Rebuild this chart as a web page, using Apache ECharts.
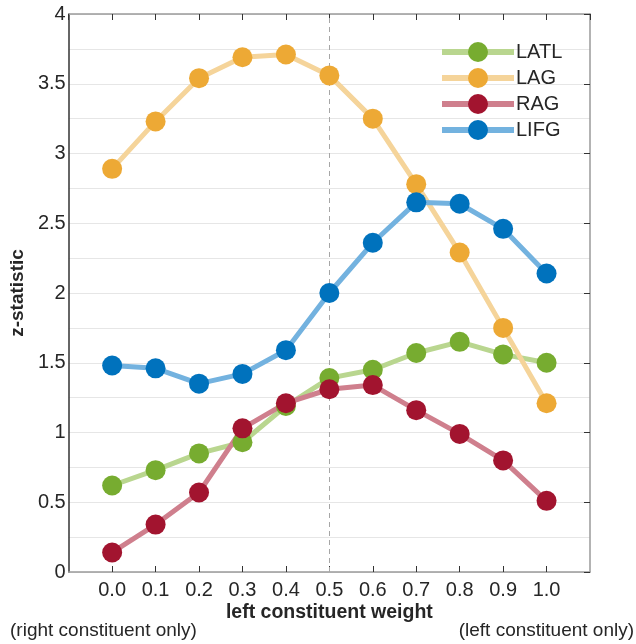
<!DOCTYPE html>
<html>
<head>
<meta charset="utf-8">
<script src="https://cdn.jsdelivr.net/npm/echarts@6/dist/echarts.min.js"></script>
<style>
  html, body { margin: 0; padding: 0; background: #fff; }
  #chart { width: 636px; height: 644px; }
</style>
</head>
<body>
<div id="chart"></div>
<script>
  // weights on the x axis
  var weights = [0.0, 0.1, 0.2, 0.3, 0.4, 0.5, 0.6, 0.7, 0.8, 0.9, 1.0];
  // z-statistic per region
  var latl = [0.62, 0.73, 0.85, 0.93, 1.19, 1.39, 1.45, 1.57, 1.65, 1.56, 1.50];
  var lag  = [2.89, 3.23, 3.54, 3.69, 3.71, 3.56, 3.25, 2.78, 2.29, 1.75, 1.21];
  var rag  = [0.14, 0.34, 0.57, 1.03, 1.21, 1.31, 1.34, 1.16, 0.99, 0.80, 0.51];
  var lifg = [1.48, 1.46, 1.35, 1.42, 1.59, 2.00, 2.36, 2.65, 2.64, 2.46, 2.14];

  var font = 'Liberation Sans';
  var textColor = '#262626';

  function pairs(vals) {
    return weights.map(function (w, i) { return [w, vals[i]]; });
  }

  function makeSeries(name, vals, dot, line) {
    return {
      name: name,
      type: 'line',
      data: pairs(vals),
      symbol: 'circle',
      symbolSize: 20,
      itemStyle: { color: dot },
      lineStyle: { color: line, width: 5 },
      emphasis: { disabled: true },
      z: 3
    };
  }

  var myChart = echarts.init(document.getElementById('chart'));

  var series = [
    makeSeries('LATL', latl, '#77ac30', '#b9d68f'),
    makeSeries('LAG', lag, '#eda935', '#f5d49a'),
    makeSeries('RAG', rag, '#a2142f', '#cf7f8d'),
    makeSeries('LIFG', lifg, '#0072bd', '#73b2df')
  ];
  // dashed line at 0.5
  series[0].markLine = {
    silent: true,
    symbol: 'none',
    label: { show: false },
    lineStyle: { color: '#a6a6a6', type: [5, 4], width: 1 },
    data: [{ xAxis: 0.5 }],
    z: 1
  };

  var option = {
    animation: false,
    backgroundColor: '#fff',
    textStyle: { fontFamily: font },
    grid: { left: 59, top: 14, right: 46, bottom: 72 },
    legend: {
      data: ['LATL', 'LAG', 'RAG', 'LIFG'],
      orient: 'vertical',
      left: 439,
      top: 42,
      padding: 0,
      itemWidth: 72,
      itemHeight: 25,
      itemGap: 6,
      lineStyle: { width: 6 },
      textStyle: { fontSize: 20, color: textColor, fontFamily: font, padding: [0, 0, 0, -3] }
    },
    xAxis: [{
      type: 'value',
      min: -0.1,
      max: 1.1,
      interval: 0.1,
      name: 'left constituent weight',
      nameLocation: 'middle',
      nameGap: 31,
      nameMoveOverlap: false,
      nameTextStyle: { fontSize: 19.5, fontWeight: 'bold', color: textColor },
      axisLine: { onZero: false, lineStyle: { color: '#9a9a9a', width: 1.5 } },
      axisTick: { show: true, inside: true, length: 6, lineStyle: { color: '#333' } },
      axisLabel: {
        fontSize: 20, color: textColor, margin: 8,
        showMinLabel: false, showMaxLabel: false,
        formatter: function (v) { return v.toFixed(1); }
      },
      splitLine: { show: false }
    }, {
      type: 'value',
      position: 'top',
      min: -0.1,
      max: 1.1,
      interval: 0.1,
      axisLine: { onZero: false, lineStyle: { color: '#9a9a9a', width: 1.5 } },
      axisTick: { show: true, inside: true, length: 6, lineStyle: { color: '#333' } },
      axisLabel: { show: false },
      splitLine: { show: false }
    }],
    yAxis: [{
      type: 'value',
      min: 0,
      max: 4,
      interval: 0.5,
      name: 'z-statistic',
      nameLocation: 'middle',
      nameGap: 38,
      nameTextStyle: { fontSize: 19, fontWeight: 'bold', color: textColor },
      axisLine: { show: true, onZero: false, lineStyle: { color: '#333', width: 1.5 } },
      axisTick: { show: false },
      axisLabel: { fontSize: 20, color: textColor, margin: 3 },
      splitLine: { show: true, lineStyle: { color: '#e6e6e6', width: 1 } },
      minorTick: { show: false, splitNumber: 2 },
      minorSplitLine: { show: true, lineStyle: { color: '#e6e6e6', width: 1 } }
    }, {
      type: 'value',
      position: 'right',
      min: 0,
      max: 4,
      interval: 0.5,
      axisLine: { show: true, onZero: false, lineStyle: { color: '#9a9a9a', width: 1.5 } },
      axisTick: { show: true, inside: true, length: 6, lineStyle: { color: '#333' } },
      axisLabel: { show: false },
      splitLine: { show: false }
    }],
    graphic: [{
      type: 'text',
      left: 10,
      top: 621,
      style: { text: '(right constituent only)', font: '19px "Liberation Sans"', fill: textColor }
    }, {
      type: 'text',
      right: 2,
      top: 621,
      style: { text: '(left constituent only)', font: '19px "Liberation Sans"', fill: textColor }
    }],
    series: series
  };

  myChart.setOption(option);
</script>
</body>
</html>
